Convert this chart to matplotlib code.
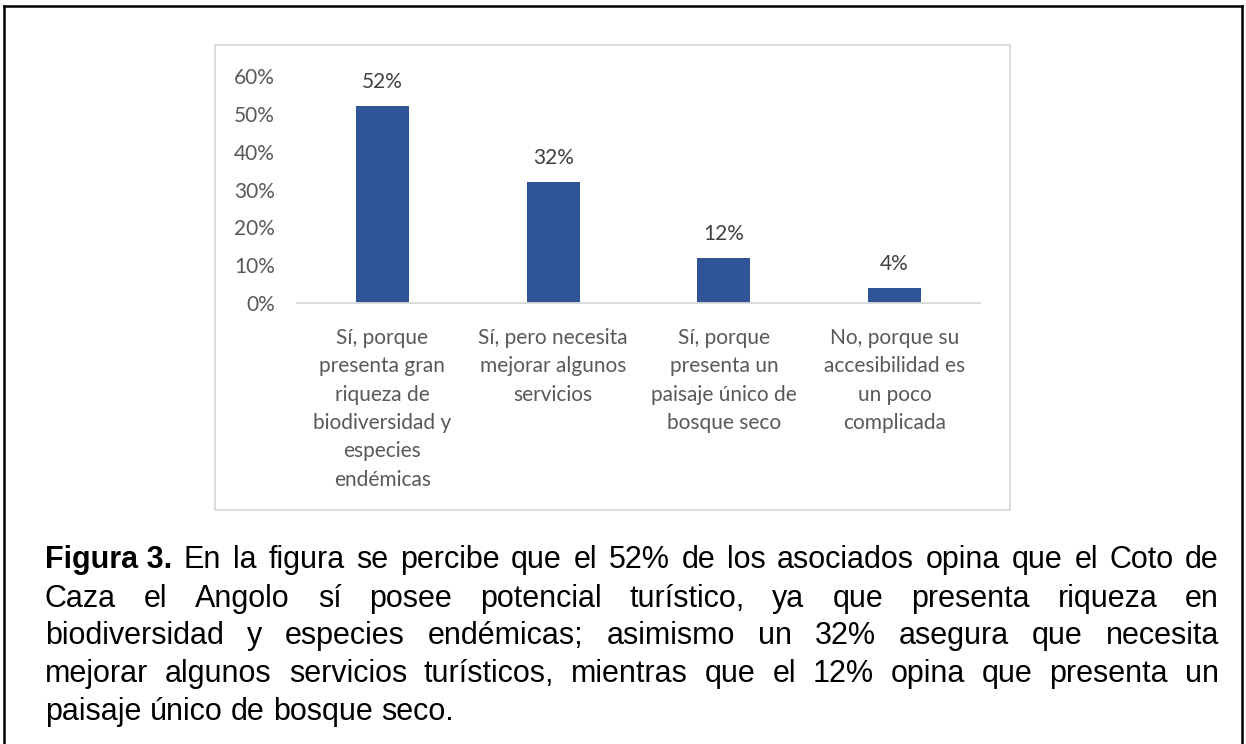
import matplotlib
matplotlib.use("Agg")
import matplotlib.pyplot as plt
from matplotlib.lines import Line2D
from matplotlib.patches import Rectangle

# chart data
categories = [
    "Sí, porque\npresenta gran\nriqueza de\nbiodiversidad y\nespecies\nendémicas",
    "Sí, pero necesita\nmejorar algunos\nservicios",
    "Sí, porque\npresenta un\npaisaje único de\nbosque seco",
    "No, porque su\naccesibilidad es\nun poco\ncomplicada",
]
values = [0.52, 0.32, 0.12, 0.04]
yticks = [0, 0.1, 0.2, 0.3, 0.4, 0.5, 0.6]

caption_lines = [
    ["Figura 3.", "En", "la", "figura", "se", "percibe", "que", "el", "52%", "de", "los", "asociados",
     "opina", "que", "el", "Coto", "de"],
    ["Caza", "el", "Angolo", "sí", "posee", "potencial", "turístico,", "ya", "que", "presenta",
     "riqueza", "en"],
    ["biodiversidad", "y", "especies", "endémicas;", "asimismo", "un", "32%", "asegura", "que",
     "necesita"],
    ["mejorar", "algunos", "servicios", "turísticos,", "mientras", "que", "el", "12%", "opina",
     "que", "presenta", "un"],
    ["paisaje", "único", "de", "bosque", "seco."],
]

W, H = 1246, 744
fig = plt.figure(figsize=(W / 100, H / 100), dpi=100)
fig.patch.set_facecolor("white")


def fx(px):
    return px / W


def fy(py):
    return 1 - py / H


# outer black frame (bottom edge is outside the picture)
for xs, ys in [((4, 4), (6, 760)), ((4, 1242), (6, 6)), ((1242, 1242), (6, 760))]:
    fig.add_artist(Line2D([fx(x) for x in xs], [fy(y) for y in ys], color="black", lw=1.8))

# light grey chart area box
fig.add_artist(Rectangle((fx(215), fy(510)), fx(1010) - fx(215), fy(45) - fy(510),
                         transform=fig.transFigure, fill=False, edgecolor="#D9D9D9", lw=1.3))

chart_font = "Lato"
ax = fig.add_axes([fx(297), fy(303), fx(980) - fx(297), fy(76) - fy(303)])
x = range(len(values))
bars = ax.bar(x, values, width=0.31, color="#2F5597", zorder=2)
ax.set_xlim(-0.5, 3.5)
ax.set_ylim(0, 0.6)
ax.set_yticks(yticks)
ax.set_yticklabels([f"{int(round(t * 100))}%" for t in yticks], fontsize=15, color="#595959",
                   family=chart_font)
ax.set_xticks(list(x))
ax.set_xticklabels(categories, fontsize=15, color="#595959", family=chart_font,
                   linespacing=1.52)
ax.tick_params(axis="both", length=0)
ax.tick_params(axis="y", pad=16)
ax.tick_params(axis="x", pad=18)
for s in ["top", "right", "left"]:
    ax.spines[s].set_visible(False)
ax.spines["bottom"].set_color("#D9D9D9")
ax.spines["bottom"].set_linewidth(1.3)
ax.set_facecolor("none")

for b, v in zip(bars, values):
    ax.annotate(f"{int(round(v * 100))}%", (b.get_x() + b.get_width() / 2, v),
                xytext=(0, 10), textcoords="offset points", ha="center", va="bottom",
                fontsize=15, color="#404040", family=chart_font)

# justified caption
renderer = fig.canvas.get_renderer()
left, right = 45, 1219
baselines = [568, 607, 644, 682, 720]
cap_size = 22
for i, (words, base) in enumerate(zip(caption_lines, baselines)):
    texts = []
    for j, w in enumerate(words):
        weight = "bold" if (i == 0 and j == 0) else "normal"
        t = fig.text(0, fy(base), w, fontsize=cap_size, family="Liberation Sans", weight=weight,
                     va="baseline", ha="left", color="black")
        texts.append(t)
    widths = [t.get_window_extent(renderer).width for t in texts]
    if i < len(caption_lines) - 1:
        gap = (right - left - sum(widths)) / (len(words) - 1)
    else:
        probe = fig.text(0, 0, "a a", fontsize=cap_size, family="Liberation Sans")
        probe2 = fig.text(0, 0, "aa", fontsize=cap_size, family="Liberation Sans")
        gap = probe.get_window_extent(renderer).width - probe2.get_window_extent(renderer).width
        probe.remove()
        probe2.remove()
    pos = left
    for t, w in zip(texts, widths):
        t.set_x(fx(pos))
        pos += w + gap

fig.savefig("out.png", dpi=100)
